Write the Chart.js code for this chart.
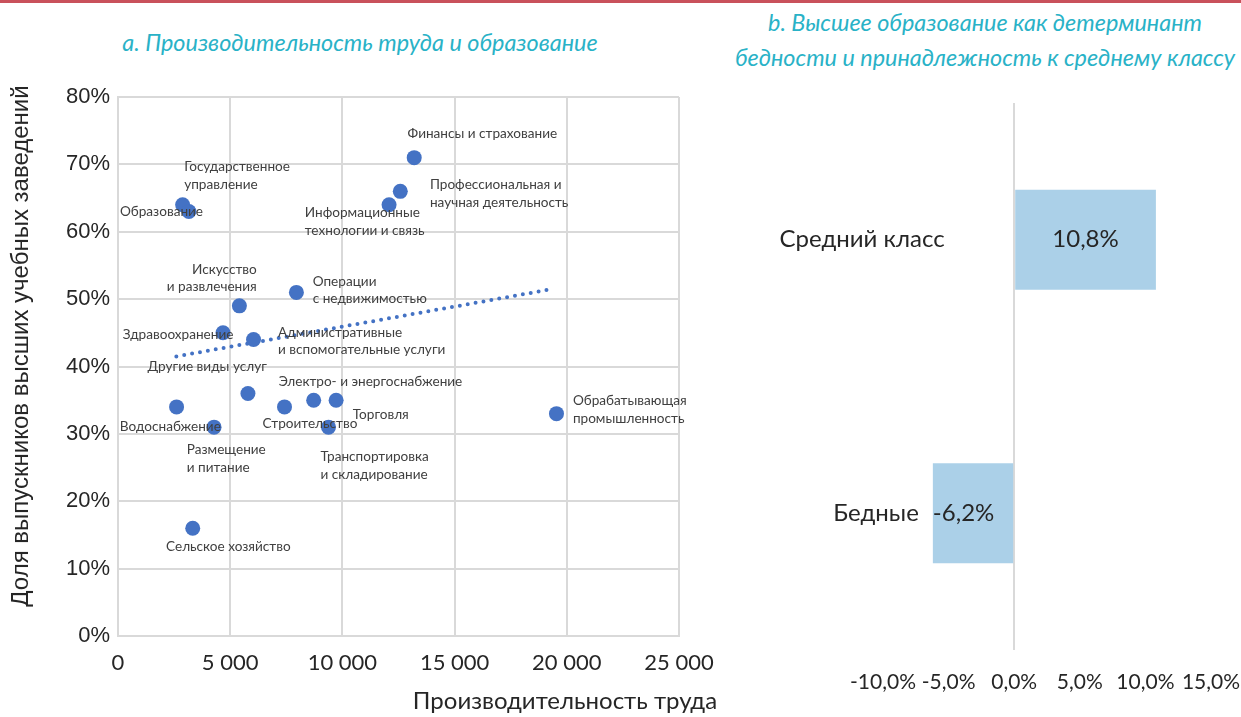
<!DOCTYPE html>
<html>
<head>
<meta charset="utf-8">
<script src="https://cdn.jsdelivr.net/npm/chart.js@4.4.0/dist/chart.umd.min.js"></script>
<style>
  body { margin: 0; background: #fff; }
  #page { position: relative; width: 1241px; height: 717px; overflow: hidden; font-family: Lato, sans-serif; color: #262626; }
  .topline { position: absolute; left: 0; top: 0; width: 1241px; height: 3px; background: #C9515B; }
  .title { position: absolute; color: #29B2C7; font-style: italic; font-weight: 400; font-size: 23.4px; text-align: center; white-space: nowrap; }
  #titleA { left: 110px; width: 500px; top: 28px; line-height: 28px; }
  #titleB { left: 730px; width: 510px; top: 5px; line-height: 35px; }
  .axisTitle { position: absolute; font-size: 24px; white-space: nowrap; text-align: center; }
  #xTitle { left: 315px; width: 500px; top: 685px; line-height: 29px; }
  #yTitle { left: -280px; top: 332px; width: 600px; height: 28px; line-height: 28px; font-family: 'Liberation Sans', Arial, sans-serif; transform: rotate(-90deg); }
  #scatterBox { position: absolute; left: 0; top: 80px; width: 720px; height: 637px; }
  #barBox { position: absolute; left: 720px; top: 80px; width: 521px; height: 637px; }
</style>
</head>
<body>
<div id="page">
  <div class="topline"></div>
  <div class="title" id="titleA">a. Производительность труда и образование</div>
  <div class="title" id="titleB">b. Высшее образование как детерминант<br>бедности и принадлежность к среднему классу</div>
  <div id="scatterBox"><canvas id="scatter"></canvas></div>
  <div id="barBox"><canvas id="bars"></canvas></div>
  <div class="axisTitle" id="xTitle">Производительность труда</div>
  <div class="axisTitle" id="yTitle">Доля выпускников высших учебных заведений</div>
</div>
<script>
// Sectors: labour productivity vs share of university graduates
const sectors = [
  'Финансы и страхование',
  'Профессиональная и\nнаучная деятельность',
  'Информационные\nтехнологии и связь',
  'Образование',
  'Государственное\nуправление',
  'Искусство\nи развлечения',
  'Операции\nс недвижимостью',
  'Здравоохранение',
  'Административные\nи вспомогательные услуги',
  'Другие виды услуг',
  'Электро- и энергоснабжение',
  'Водоснабжение',
  'Строительство',
  'Торговля',
  'Размещение\nи питание',
  'Транспортировка\nи складирование',
  'Сельское хозяйство',
  'Обрабатывающая\nпромышленность'
];
const productivity = [13200, 12580, 12080, 2880, 3160, 5410, 7950, 4680, 6040, 5790, 8720, 2610, 7420, 9720, 4280, 9380, 3330, 19540];
const graduateShare = [71, 66, 64, 64, 63, 49, 51, 45, 44, 36, 35, 34, 34, 35, 31, 31, 16, 33];

// linear trend, end points
const trendX = [2600, 19200];
const trendY = [41.5, 51.4];

// panel b: higher education effect by group
const groups = ['Средний класс', 'Бедные'];
const effect = [10.8, -6.2];

// where each sector name sits relative to its dot: [dx, dy of first line, align]
const labelLayout = [
  [-6.6, -24, 'left'], [29.6, -6.7, 'left'], [-84.3, 7.7, 'left'], [-62.7, 6.7, 'left'],
  [-4.7, -45, 'left'], [17.4, -36.7, 'right'], [16.3, -11, 'left'], [-100.3, 1.7, 'left'],
  [24.4, -7.3, 'left'], [-100.4, -26.7, 'left'], [-35, -18.3, 'left'], [-56.7, 19.3, 'left'],
  [-22, 16.3, 'left'], [16.6, 14, 'left'], [-27.3, 22.6, 'left'], [-8, 29.3, 'left'],
  [-26.7, 18.4, 'left'], [16.4, -12.6, 'left']
];

const textDark = '#262626';
const gridGrey = '#D9D9D9';

function thousands(v) {
  return String(v).replace(/\B(?=(\d{3})+(?!\d))/g, ' ');
}
function pct1(v) {
  return v.toFixed(1).replace('.', ',') + '%';
}

const pointLabels = {
  id: 'pointLabels',
  afterDatasetsDraw(chart) {
    const ctx = chart.ctx;
    const meta = chart.getDatasetMeta(0);
    ctx.save();
    ctx.font = '13.6px Lato';
    ctx.fillStyle = '#404040';
    ctx.textBaseline = 'middle';
    meta.data.forEach((pt, i) => {
      const [dx, dy, align] = labelLayout[i];
      ctx.textAlign = align;
      sectors[i].split('\n').forEach((line, k) => {
        ctx.fillText(line, pt.x + dx, pt.y + dy + k * 17.7);
      });
    });
    ctx.restore();
  }
};

new Chart(document.getElementById('scatter'), {
  type: 'scatter',
  data: {
    datasets: [{
      data: productivity.map((x, i) => ({ x: x, y: graduateShare[i] })),
      backgroundColor: '#4472C4',
      borderWidth: 0,
      pointRadius: 7.5,
      pointHoverRadius: 7.5,
      order: 0
    }, {
      type: 'line',
      data: trendX.map((x, i) => ({ x: x, y: trendY[i] })),
      showLine: true,
      borderColor: '#4472C4',
      borderWidth: 4,
      borderDash: [0, 8],
      borderCapStyle: 'round',
      pointRadius: 0,
      fill: false,
      order: 1
    }]
  },
  options: {
    responsive: true,
    maintainAspectRatio: false,
    animation: false,
    layout: { padding: { left: 0, right: 41, top: 17, bottom: 0 } },
    plugins: { legend: { display: false }, tooltip: { enabled: false } },
    scales: {
      x: {
        type: 'linear', min: 0, max: 25000,
        ticks: { stepSize: 5000, callback: v => thousands(v), font: { family: 'Lato', size: 22 }, color: textDark, padding: 14, maxRotation: 0 },
        grid: { color: gridGrey, lineWidth: 2, drawTicks: false },
        border: { color: gridGrey, width: 2 },
        afterFit: s => { s.height = 81; s.paddingLeft = 0; s.paddingRight = 0; }
      },
      y: {
        min: 0, max: 80,
        ticks: { stepSize: 10, callback: v => v + '%', font: { family: 'Liberation Sans', size: 22 }, color: textDark, padding: 8 },
        grid: { color: gridGrey, lineWidth: 2, drawTicks: false },
        border: { color: gridGrey, width: 2 },
        afterFit: s => { s.width = 118; s.paddingTop = 0; s.paddingBottom = 0; }
      }
    }
  },
  plugins: [pointLabels]
});

const barLabels = {
  id: 'barLabels',
  afterDatasetsDraw(chart) {
    const ctx = chart.ctx;
    const x = chart.scales.x;
    const meta = chart.getDatasetMeta(0);
    ctx.save();
    ctx.font = '24px Lato';
    ctx.fillStyle = textDark;
    ctx.textBaseline = 'middle';
    meta.data.forEach((bar, i) => {
      const v = effect[i];
      const left = Math.min(bar.x, bar.base);
      // group name sits left of the bar
      ctx.textAlign = 'right';
      ctx.fillText(groups[i], Math.min(x.getPixelForValue(-5.3), left - 14), bar.y);
      // value label
      if (v >= 0) {
        ctx.textAlign = 'center';
        ctx.fillText(pct1(v), (bar.x + bar.base) / 2, bar.y);
      } else {
        ctx.textAlign = 'left';
        ctx.fillText(pct1(v), bar.x, bar.y);
      }
    });
    ctx.restore();
  }
};

new Chart(document.getElementById('bars'), {
  type: 'bar',
  data: {
    labels: groups,
    datasets: [{
      data: effect,
      backgroundColor: '#ABD0E8',
      barPercentage: 0.73,
      categoryPercentage: 0.5
    }]
  },
  options: {
    indexAxis: 'y',
    responsive: true,
    maintainAspectRatio: false,
    animation: false,
    layout: { padding: { left: 163, right: 30, top: 23, bottom: 0 } },
    plugins: { legend: { display: false }, tooltip: { enabled: false } },
    scales: {
      x: {
        min: -10, max: 15,
        ticks: { stepSize: 5, autoSkip: false, callback: v => pct1(v), font: { family: 'Lato', size: 21 }, color: textDark, padding: 20, maxRotation: 0 },
        grid: { drawTicks: false, lineWidth: 2, color: c => (c.tick && c.tick.value === 0) ? gridGrey : 'rgba(0,0,0,0)' },
        border: { display: false },
        afterFit: s => { s.height = 67; s.paddingLeft = 0; s.paddingRight = 0; }
      },
      y: { display: false }
    }
  },
  plugins: [barLabels]
});
</script>
</body>
</html>
